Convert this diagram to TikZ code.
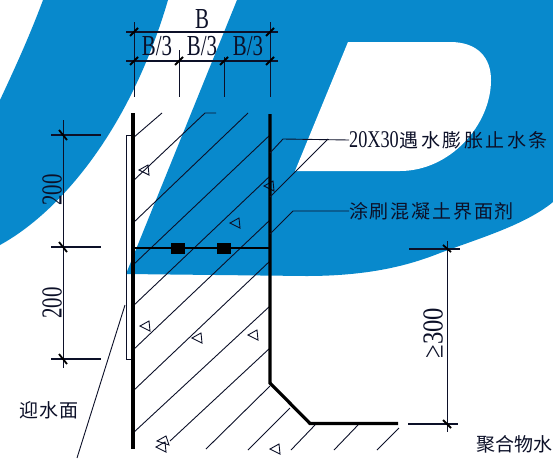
\documentclass[tikz,border=0pt]{standalone}
\usepackage{fontspec}
\setmainfont{Liberation Serif}
\newfontfamily\cjk{Noto Sans CJK SC}
\definecolor{logoblue}{RGB}{8,137,204}
\definecolor{ink}{RGB}{12,16,40}
\newcommand{\narrowtxt}[1]{\scalebox{0.72}[1]{#1}}
\tikzset{
  thinline/.style={draw=ink,line width=0.9pt},
  hatchline/.style={draw=ink,line width=0.9pt},
  wall/.style={draw=black,line width=3.2pt},
  tick/.style={draw=black,line width=1.8pt},
  aggregate/.style={draw=ink,line width=0.9pt},
  dimtext/.style={text=ink,font=\fontsize{29}{29}\selectfont,inner sep=0pt},
  cjklabel/.style={text=ink,font=\cjk\fontsize{19}{19}\selectfont,inner sep=0pt},
  plug/.style={fill=black,draw=none,minimum width=14pt,minimum height=11pt,inner sep=0pt},
}
\begin{document}
\begin{tikzpicture}[x=1pt,y=-1pt]
\useasboundingbox (0,0) rectangle (553,458);
\clip (0,0) rectangle (553,458);
\fill[white] (0,0) rectangle (553,458);
% logo background
\fill[logoblue] (43,0) .. controls (30,35) and (15,68) .. (0,100) -- (0,245)
  .. controls (60,212) and (130,130) .. (168,0) -- cycle;
\fill[logoblue] (237,0) -- (126,274) -- (306,276)
  .. controls (370,276) and (410,265) .. (440,253)
  .. controls (480,238) and (525,225) .. (553,202) -- (553,0) -- cycle;
\fill[white] (348,42) -- (450,42) .. controls (478,42) and (491,58) .. (491,80)
  .. controls (491,125) and (450,171) .. (400,171) -- (295,171) -- cycle;
% hatching
\foreach \a/\b/\c/\d in {
  133/138/162/113, 133/223/248/113, 133/265/270/135,
  133/306/270/176, 133/350/270/220, 133/391/270/261, 133/433/270/306,
  170/441/270/348, 206/449/270/386, 248/450/290/408,
  291/450/315/425, 334/450/358/425, 377/450/399/428}
  \draw[hatchline] (\a,\b) -- (\c,\d);
\draw[hatchline] (133,181) -- (205,113) -- (216,113);
% aggregate triangles
\foreach \p in {(139,170),(264,186),(230,223),(140,326),(192,338),(248,335),(156,447),(270,449)}
  \draw[aggregate] \p -- ++(9,-5) -- ++(1,10) -- cycle;
\draw[aggregate] (157,441) -- ++(9,-5) -- ++(3,9) -- cycle;
% thin membrane
\coordinate (mt) at (133,135);
\coordinate (mb) at (133,359);
\draw[thinline] (mt) -- (126,135) -- (126,359) -- (mb);
% walls
\draw[wall] (133,113) -- (133,449);
\draw[wall,line join=miter] (270,114) -- (270,383) -- (310,423.5) -- (398,423.5);
% joint
\coordinate (jl) at (133,248);
\coordinate (jr) at (270,248);
\draw[draw=black,line width=1.6pt] (jl) -- (jr);
\node[plug] (p1) at (178,248) {};
\node[plug] (p2) at (224,248) {};
% top dimensions
\coordinate (bl) at (126,32); \coordinate (br) at (278,32);
\coordinate (cl) at (126,61); \coordinate (cr) at (278,61);
\draw[thinline,line width=1.1pt] (bl) -- (br);
\draw[thinline,line width=1.1pt] (cl) -- (cr);
\foreach \x/\t in {134/22, 179/50, 224/57, 270/22}
  \draw[thinline] (\x,\t) -- (\x,97);
\foreach \x in {134,270} \draw[tick] (\x-4,36) -- (\x+4,28);
\foreach \x in {134,179,224,270} \draw[tick] (\x-4,65) -- (\x+4,57);
\node[dimtext] (tb) at (202,19) {\narrowtxt{B}};
\node[dimtext] (t1) at (157,46) {\narrowtxt{B/3}};
\node[dimtext] (t2) at (202,46) {\narrowtxt{B/3}};
\node[dimtext] (t3) at (248,46) {\narrowtxt{B/3}};
% left dimensions
\draw[thinline] (63,120) -- (63,368);
\foreach \y in {135,247,359} {
  \draw[thinline,line width=1.1pt] (51,\y) -- (101,\y);
  \draw[tick] (59,\y-5) -- (67,\y+5);
}
\node[dimtext,rotate=90] (h1) at (52,190) {\narrowtxt{200}};
\node[dimtext,rotate=90] (h2) at (52,303) {\narrowtxt{200}};
% right dimension
\draw[thinline] (447,241) -- (447,432);
\draw[thinline,line width=1.1pt] (409,249) -- (460,249);
\draw[thinline,line width=1.1pt] (408,424) -- (458,424);
\draw[tick] (443,245) -- (451,252);
\draw[tick] (443,420) -- (451,428);
\node[dimtext,rotate=90] (h3) at (433,333) {\scalebox{0.85}[1]{≥300}};
% labels
\node[cjklabel,anchor=west] (lab1) at (349,140)
  {\scalebox{0.76}[1]{\fontspec{Liberation Serif}\fontsize{24}{24}\selectfont 20X30}\hspace{1pt}\addfontfeature{LetterSpace=13}遇水膨胀止水条};
\node[cjklabel,anchor=west] (lab2) at (349,211) {\addfontfeature{LetterSpace=9.5}涂刷混凝土界面剂};
\node[cjklabel,anchor=west] (lab3) at (19,410) {\addfontfeature{LetterSpace=6}迎水面};
\node[cjklabel,anchor=west] (lab4) at (476,444) {\addfontfeature{LetterSpace=1}聚合物水};
% leaders
\coordinate (e1) at (270,153);
\coordinate (e2) at (270,197);
\coordinate (e3) at (270,234);
\coordinate (e4) at (125,305);
\coordinate (e5) at (77,458);
\draw[thinline] (lab1.west) -- (283,139) -- (e1);
\draw[thinline] (328,139) -- (e2);
\draw[thinline] (lab2.west) -- (293,211) -- (e3);
\draw[thinline] (e4) -- (e5);
\end{tikzpicture}
\end{document}
